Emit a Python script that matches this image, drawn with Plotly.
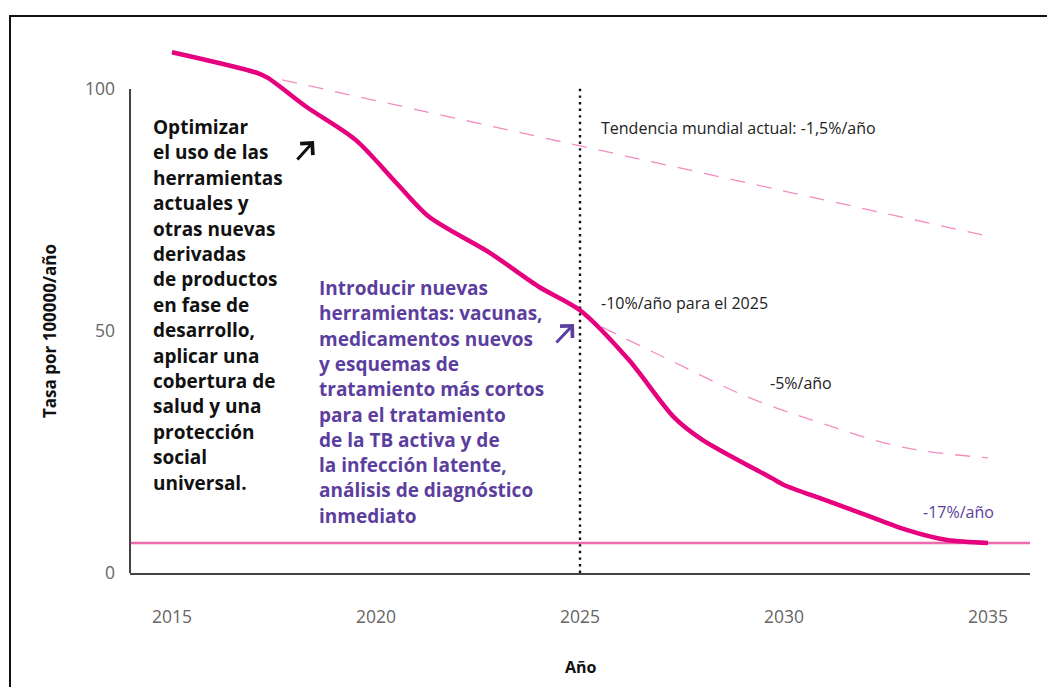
import plotly.graph_objects as go

# ---------------- data ----------------
main_years = [2015, 2017.1, 2017.35, 2018.3, 2019.5, 2020.5, 2021.3, 2022.8, 2024.0, 2025.0,
              2026.2, 2027.3, 2028.0, 2029.7, 2030.0, 2031.0, 2032.0, 2033.0, 2034.0, 2035.0]
main_rate = [107.6, 103.3, 102.3, 96.3, 89.5, 80.6, 73.6, 66.1, 59.1, 54.3,
             44.0, 32.2, 27.5, 19.6, 18.2, 15.1, 12.0, 8.9, 6.8, 6.2]

trend_years = [2017.7, 2025.5, 2035.0]
trend_rate = [101.9, 87.4, 69.6]          # Tendencia mundial actual: -1,5%/año

five_years = [2025.54, 2027.3, 2029.1, 2030.9, 2032.9, 2035.0]
five_rate = [50.8, 43.6, 36.4, 31.0, 26.0, 23.8]   # -5%/año

target_rate = 6.2                           # horizontal target level
marker_year = 2025
marker_top = 100.3

x_ticks = [2015, 2020, 2025, 2030, 2035]
y_ticks = [0, 50, 100]

left_text = ["Optimizar", "el uso de las", "herramientas", "actuales y", "otras nuevas",
             "derivadas", "de productos", "en fase de", "desarrollo,", "aplicar una",
             "cobertura de", "salud y una", "protección", "social", "universal."]
purple_text = ["Introducir nuevas", "herramientas: vacunas,", "medicamentos nuevos",
               "y esquemas de", "tratamiento más cortos", "para el tratamiento",
               "de la TB activa y de", "la infección latente,", "análisis de diagnóstico",
               "inmediato"]

# ---------------- style ----------------
MAGENTA = "#E6007E"
PINK = "#F06AAE"
DASH_PINK = "#F48CC0"
PURPLE = "#5B3E9E"
FONT = "Open Sans"

OFF = 8                     # page offset of the figure in the window
W, H = 1055 - OFF, 695 - 2 * OFF
L, R, T, B = 122, 25, 23, 114
XR = [2013.97, 2036.03]
YR = [0, 112]

def px_x(px):
    return (px - OFF - L) / (W - L - R)

def px_y(py):
    return (H - B - (py - OFF)) / (H - T - B)

fig = go.Figure()

fig.add_trace(go.Scatter(x=[XR[0], XR[1]], y=[target_rate, target_rate], mode="lines",
                         line=dict(color=PINK, width=2.5), hoverinfo="skip"))
fig.add_trace(go.Scatter(x=trend_years, y=trend_rate, mode="lines",
                         line=dict(color=DASH_PINK, width=1.3, dash="15px,12px"), hoverinfo="skip"))
fig.add_trace(go.Scatter(x=five_years, y=five_rate, mode="lines", line_shape="spline",
                         line=dict(color=DASH_PINK, width=1.3, dash="15px,12px"), hoverinfo="skip"))
fig.add_trace(go.Scatter(x=[marker_year, marker_year], y=[0, marker_top], mode="lines",
                         line=dict(color="#111111", width=2.4, dash="2.4px,4.2px"), hoverinfo="skip"))
fig.add_trace(go.Scatter(x=main_years, y=main_rate, mode="lines", line_shape="spline",
                         line=dict(color=MAGENTA, width=4.5, smoothing=0.8), hoverinfo="skip"))

annotations = []
for i, t in enumerate(left_text):
    annotations.append(dict(x=px_x(151), y=px_y(127 + i * 25.4), xref="paper", yref="paper",
                            text=t, showarrow=False, xanchor="left", yanchor="middle",
                            font=dict(family=FONT, size=19, color="#111111", weight="bold")))
for i, t in enumerate(purple_text):
    annotations.append(dict(x=px_x(317), y=px_y(288 + i * 25.3), xref="paper", yref="paper",
                            text=t, showarrow=False, xanchor="left", yanchor="middle",
                            font=dict(family=FONT, size=19, color=PURPLE, weight="bold")))

annotations += [
    dict(x=px_x(314), y=px_y(141), xref="paper", yref="paper", text="", showarrow=True,
         ax=-18, ay=20, arrowhead=4, arrowsize=1.1, arrowwidth=3, arrowcolor="#111111"),
    dict(x=px_x(574), y=px_y(324), xref="paper", yref="paper", text="", showarrow=True,
         ax=-19, ay=20, arrowhead=4, arrowsize=1.1, arrowwidth=3, arrowcolor=PURPLE),
    dict(x=px_x(599), y=px_y(128), xref="paper", yref="paper", text="Tendencia mundial actual: -1,5%/año",
         showarrow=False, xanchor="left", yanchor="middle", font=dict(family=FONT, size=16, color="#222222")),
    dict(x=px_x(599), y=px_y(303), xref="paper", yref="paper", text="-10%/año para el 2025",
         showarrow=False, xanchor="left", yanchor="middle", font=dict(family=FONT, size=16, color="#222222")),
    dict(x=px_x(768), y=px_y(383), xref="paper", yref="paper", text="-5%/año",
         showarrow=False, xanchor="left", yanchor="middle", font=dict(family=FONT, size=16, color="#222222")),
    dict(x=px_x(921), y=px_y(512), xref="paper", yref="paper", text="-17%/año",
         showarrow=False, xanchor="left", yanchor="middle", font=dict(family=FONT, size=16, color=PURPLE)),
    dict(x=px_x(581), y=px_y(667), xref="paper", yref="paper", text="Año",
         showarrow=False, xanchor="center", yanchor="middle", font=dict(family=FONT, size=16, color="#111111", weight="bold")),
    dict(x=px_x(49), y=px_y(331), xref="paper", yref="paper", text="Tasa por 100000/año", textangle=-90,
         showarrow=False, xanchor="center", yanchor="middle", font=dict(family=FONT, size=17, color="#111111", weight="bold")),
]

shapes = [
    # outer frame: left and top edges
    dict(type="line", xref="paper", yref="paper", x0=px_x(10), x1=px_x(10), y0=px_y(15), y1=px_y(700),
         line=dict(color="#111111", width=2), layer="below"),
    dict(type="line", xref="paper", yref="paper", x0=px_x(9), x1=px_x(1060), y0=px_y(16), y1=px_y(16),
         line=dict(color="#111111", width=2), layer="below"),
    # y axis line from 0 to 100
    dict(type="line", xref="paper", yref="y", x0=0, x1=0, y0=0, y1=100,
         line=dict(color="#444444", width=2)),
]

fig.update_layout(
    width=W, height=H, margin=dict(l=L, r=R, t=T, b=B),
    paper_bgcolor="white", plot_bgcolor="white", showlegend=False,
    annotations=annotations, shapes=shapes,
    xaxis=dict(range=XR, tickvals=x_ticks, showgrid=False, zeroline=False,
               showline=True, linecolor="#444444", linewidth=2, ticks="",
               ticklabelstandoff=27, tickfont=dict(family=FONT, size=17.5, color="#666666")),
    yaxis=dict(range=YR, tickvals=y_ticks, showgrid=False, zeroline=False, showline=False,
               ticks="", ticklabelstandoff=14, tickfont=dict(family=FONT, size=17.5, color="#666666")),
)

fig.write_html("out.html")
